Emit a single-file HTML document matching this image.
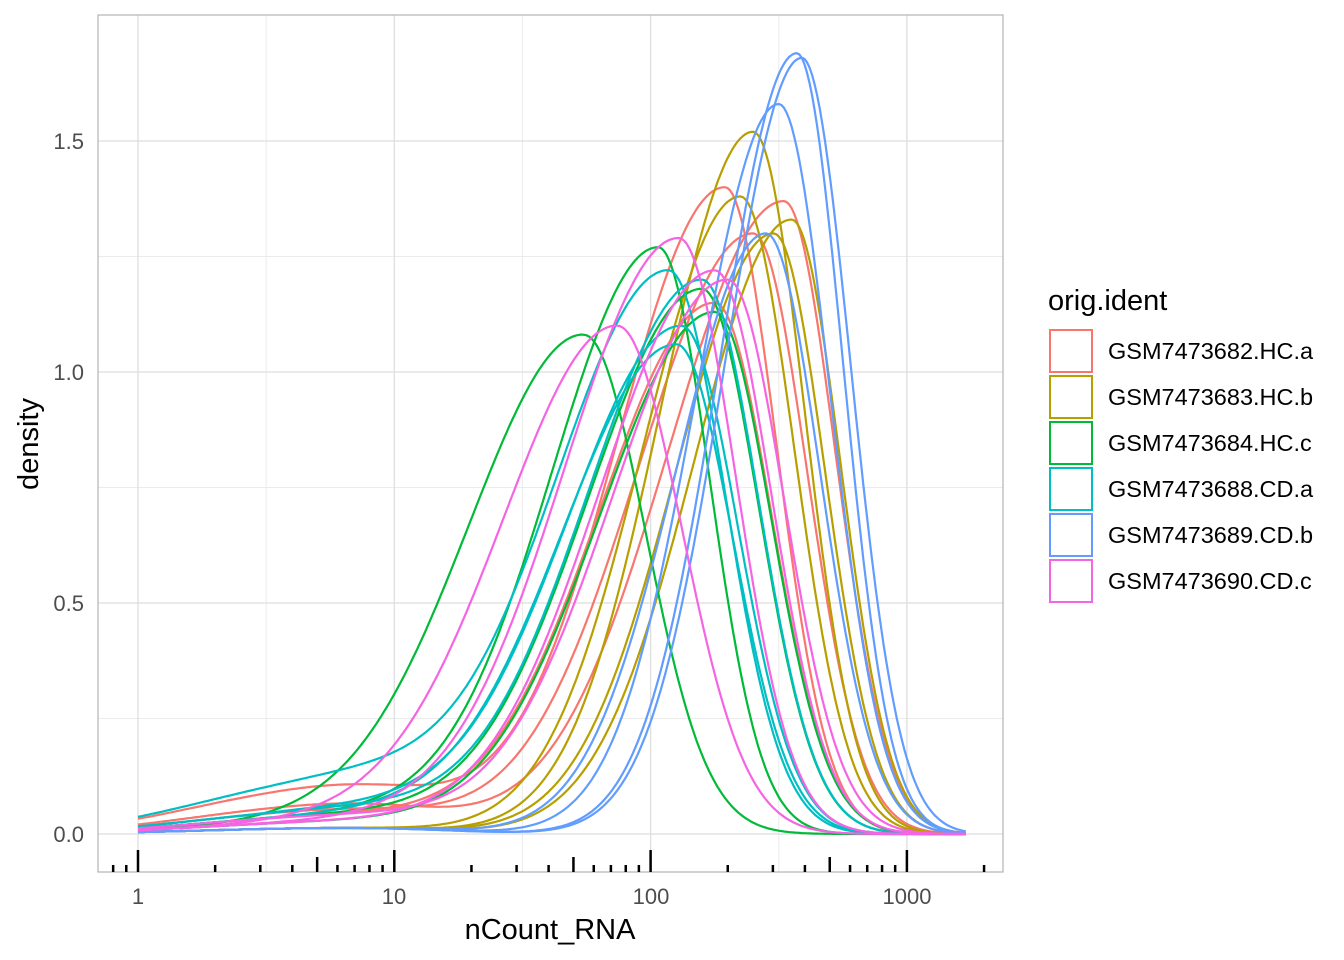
<!DOCTYPE html>
<html><head><meta charset="utf-8"><style>
body{margin:0;background:#fff}
svg{display:block;font-family:"Liberation Sans",sans-serif}
</style></head><body>
<svg id="s" width="1344" height="960" xmlns="http://www.w3.org/2000/svg">
<rect width="1344" height="960" fill="#fff"/>
<g id="grid"></g>
<g id="curves" fill="none" stroke-width="2.2"></g>
<rect x="98" y="15" width="905" height="857" fill="none" stroke="#b3b3b3" stroke-width="1.2"/>
<g id="ticks"></g>
<g fill="#4d4d4d" font-size="22" text-anchor="end">
<text x="84" y="149">1.5</text><text x="84" y="380">1.0</text><text x="84" y="611">0.5</text><text x="84" y="842">0.0</text>
</g>
<g fill="#4d4d4d" font-size="22" text-anchor="middle">
<text x="138" y="904">1</text><text x="394" y="904">10</text><text x="651" y="904">100</text><text x="907" y="904">1000</text>
</g>
<text x="550" y="939" font-size="29" text-anchor="middle">nCount_RNA</text>
<text transform="translate(38,444) rotate(-90)" font-size="29" text-anchor="middle">density</text>
<text x="1048" y="310" font-size="29">orig.ident</text>
<g id="leg"></g>
</svg>
<script>
var X=function(v){return 138+256.3*v;}, Y=function(d){return 834-462*d;};
var h='';
[0.25,0.75,1.25].forEach(function(v){h+='<line x1="98" x2="1003" y1="'+Y(v)+'" y2="'+Y(v)+'" stroke="#ebebeb" stroke-width="1"/>';});
[0.5,1.5,2.5].forEach(function(v){h+='<line y1="15" y2="872" x1="'+X(v)+'" x2="'+X(v)+'" stroke="#ebebeb" stroke-width="1"/>';});
[0,0.5,1,1.5].forEach(function(v){h+='<line x1="98" x2="1003" y1="'+Y(v)+'" y2="'+Y(v)+'" stroke="#dedede" stroke-width="1.3"/>';});
[0,1,2,3].forEach(function(v){h+='<line y1="15" y2="872" x1="'+X(v)+'" x2="'+X(v)+'" stroke="#dedede" stroke-width="1.3"/>';});
document.getElementById('grid').innerHTML=h;
var t='';
for(var e=-1;e<=3;e++)for(var k=1;k<=9;k++){var x=X(e+Math.log10(k));if(x<99||x>1002)continue;
var ty=k==1?850:(k==5?857:865);t+='<line x1="'+x+'" x2="'+x+'" y1="'+ty+'" y2="872" stroke="#000" stroke-width="2.5"/>';}
document.getElementById('ticks').innerHTML=t;
var cols=['#F8766D','#B79F00','#00BA38','#00BFC4','#619CFF','#F564E3'];
var P=[
[[2.29,1.40,.42,.2,.08],[2.52,1.37,.45,.2,.05],[2.40,1.30,.45,.21,.04],[2.25,1.15,.45,.22,.03]],
[[2.40,1.52,.36,.2,.01],[2.35,1.38,.38,.21,.01],[2.55,1.33,.38,.19,.01],[2.48,1.30,.38,.2,.01]],
[[2.03,1.27,.42,.2,.03],[1.74,1.08,.45,.24,.02],[2.2,1.18,.45,.22,.03],[2.25,1.13,.45,.22,.02]],
[[2.07,1.22,.45,.22,.09],[2.2,1.20,.45,.22,.04],[2.12,1.10,.45,.22,.04],[2.1,1.06,.45,.22,.03]],
[[2.57,1.69,.3,.18,.01],[2.59,1.68,.3,.19,.01],[2.50,1.58,.32,.2,.01],[2.45,1.30,.35,.21,.01]],
[[2.11,1.29,.45,.22,.02],[1.87,1.10,.45,.25,.02],[2.25,1.22,.45,.22,.02],[2.3,1.20,.45,.22,.03]]];
var c='';
P.forEach(function(arr,i){arr.forEach(function(p){var mu=p[0],hh=p[1],sl=p[2],sr=p[3],tl=p[4];var d='';
for(var v=0;v<=3.235;v+=0.01){var s=v<mu?sl:sr;var a=v-mu;var y=hh*Math.exp(-a*a/(2*s*s));
var b=v-0.6,q=v-1.0;
y+=tl*Math.exp(-b*b/(2*0.45*0.45))*(v<mu?1:0)+0.5*tl*Math.exp(-q*q/(2*0.3*0.3));
d+=(d?'L':'M')+X(v).toFixed(1)+','+Y(y).toFixed(1);}
c+='<path d="'+d+'" stroke="'+cols[i]+'"/>';});});
document.getElementById('curves').innerHTML=c;
var names=['GSM7473682.HC.a','GSM7473683.HC.b','GSM7473684.HC.c','GSM7473688.CD.a','GSM7473689.CD.b','GSM7473690.CD.c'];
var l='';names.forEach(function(n,i){var y=330+46*i;l+='<rect x="1050" y="'+y+'" width="42" height="42" fill="#fff" stroke="'+cols[i]+'" stroke-width="2"/><text x="1108" y="'+(y+29)+'" font-size="23.5">'+n+'</text>';});
document.getElementById('leg').innerHTML=l;
</script>
</body></html>
